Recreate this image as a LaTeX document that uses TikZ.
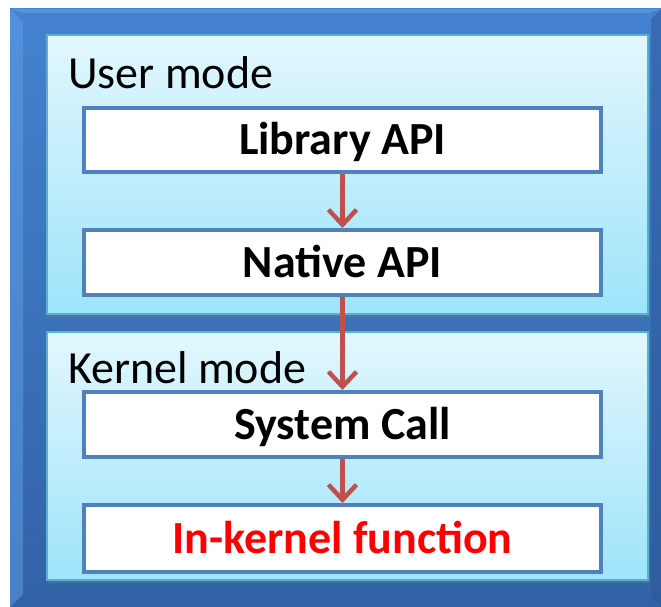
\documentclass[tikz,border=0pt]{standalone}
\usepackage{fontspec}
\setmainfont{Carlito}
\usetikzlibrary{arrows.meta,shadows}
\definecolor{outerTop}{RGB}{68,130,208}
\definecolor{outerBot}{RGB}{50,98,166}
\definecolor{outerLight}{RGB}{96,160,230}
\definecolor{outerDark}{RGB}{44,88,152}
\definecolor{panelTop}{RGB}{226,247,253}
\definecolor{panelBot}{RGB}{158,228,250}
\definecolor{panelLine}{RGB}{88,178,205}
\definecolor{boxLine}{RGB}{79,129,189}
\definecolor{arrowRed}{RGB}{192,80,77}
\tikzset{
  panel/.style={draw=panelLine, line width=1.5pt, top color=panelTop, bottom color=panelBot,
    drop shadow={shadow xshift=1.5pt, shadow yshift=-2.5pt, opacity=0.35}},
  apibox/.style={draw=boxLine, line width=4pt, fill=white, minimum width=517pt, minimum height=64pt,
    inner sep=0pt, text height=29pt, text depth=0pt, font=\fontsize{46}{55}\selectfont\bfseries,
    drop shadow={shadow xshift=1pt, shadow yshift=-2pt, opacity=0.3}},
  lbl/.style={inner sep=0pt, anchor=base west, font=\fontsize{46}{55}\selectfont},
  arr/.style={draw=arrowRed, line width=4.5pt, -{Straight Barb[length=15pt,width=28pt]}}
}
\begin{document}
\begin{tikzpicture}[x=1pt,y=-1pt]
\useasboundingbox (0,0) rectangle (661,607);
% outer frame
\fill[top color=outerTop, bottom color=outerBot] (10,9) rectangle (661,607);
\fill[outerLight, opacity=0.5] (10,9) -- (23,22) -- (23,594) -- (10,607) -- cycle;
\fill[outerLight, opacity=0.6] (10,9) -- (661,9) -- (648,13) -- (23,13) -- cycle;
\fill[outerDark, opacity=0.5] (661,9) -- (661,607) -- (651,597) -- (651,19) -- cycle;
% panels
\draw[panel] (47,35) rectangle (648,314);
\draw[panel] (47,332) rectangle (648,580);
% labels
\node[lbl] (um) at (68,89) {User mode};
\node[lbl] (km) at (68,383) {Kernel mode};
% boxes
\node[apibox] (lib) at (342.5,140) {Library API};
\node[apibox, minimum height=65pt] (nat) at (342.5,262.5) {Native API};
\node[apibox, minimum height=65pt] (sys) at (342.5,424.5) {System Call};
\node[apibox, minimum height=67pt, text=red] (ink) at (342.5,538.5) {In-kernel function};
% arrows
\draw[arr] (lib.south) -- (nat.north);
\draw[arr] (nat.south) -- (sys.north);
\draw[arr] (sys.south) -- (ink.north);
\end{tikzpicture}
\end{document}
